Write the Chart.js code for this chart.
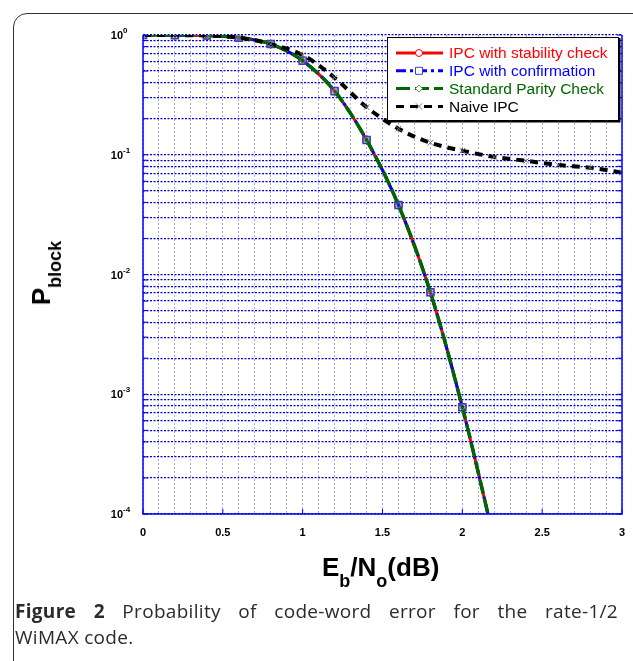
<!DOCTYPE html>
<html lang="en">
<head>
    <meta charset="UTF-8">
    <title>Probability of code-word error</title>
    <style>
        body {
            margin: 0;
            padding: 0;
            background: #fff;
            width: 633px;
            height: 661px;
            overflow: hidden;
            position: relative;
            font-family: Arial, "Liberation Sans", sans-serif;
        }
        #frame {
            position: absolute;
            left: 13px;
            top: 13px;
            width: 640px;
            height: 700px;
            border: 1.5px solid #333;
            border-radius: 14px;
        }
        #chart-container {
            position: absolute;
            left: 0;
            top: 0;
            width: 633px;
            height: 661px;
        }
        .axis-title {
            position: absolute;
            font-weight: bold;
            color: #000;
            white-space: nowrap;
        }
        #xTitle {
            left: 322px;
            top: 552px;
            font-size: 26px;
        }
        #xTitle sub, #yTitle sub {
            font-size: 18px;
            vertical-align: -11px;
        }
        #yTitle {
            left: 46px;
            top: 273px;
            font-size: 26px;
            transform: translate(-50%, -50%) rotate(-90deg);
        }
        #caption {
            position: absolute;
            left: 15px;
            top: 598px;
            width: 603px;
            font-family: "Open Sans", sans-serif;
            font-size: 19px;
            letter-spacing: 0.3px;
            line-height: 26px;
            color: #2b2b2b;
        }
        #caption .line1 {
            text-align: justify;
            text-align-last: justify;
            white-space: nowrap;
        }
    </style>
    <script src="https://cdn.jsdelivr.net/npm/chart.js"></script>
</head>
<body>

    <div id="frame"></div>
    <div id="chart-container">
        <canvas id="berChart" width="633" height="661"></canvas>
    </div>
    <div class="axis-title" id="xTitle">E<sub>b</sub>/N<sub>o</sub>(dB)</div>
    <div class="axis-title" id="yTitle">P<sub>block</sub></div>
    <div id="caption">
        <div class="line1"><b>Figure 2</b> Probability of code-word error for the rate-1/2</div>
        <div>WiMAX code.</div>
    </div>

    <script>
        // Eb/No in dB
        var ebno = [0, 0.2, 0.4, 0.6, 0.8, 1.0, 1.2, 1.4, 1.6, 1.8, 2.0, 2.2, 2.4, 2.6, 2.8, 3.0];

        // block error probability
        var ipcStability    = [1.0, 0.998, 0.99, 0.95, 0.84, 0.61, 0.34, 0.133, 0.038, 0.0071, 0.00078, 0.00006, null, null, null, null];
        var ipcConfirmation = [1.0, 0.998, 0.99, 0.95, 0.84, 0.61, 0.34, 0.133, 0.038, 0.0071, 0.00078, 0.00006, null, null, null, null];
        var standardParity  = [1.0, 0.998, 0.99, 0.95, 0.84, 0.61, 0.34, 0.133, 0.038, 0.0071, 0.00078, 0.00006, null, null, null, null];
        var naiveIpc        = [1.0, 0.998, 0.99, 0.95, 0.84, 0.68, 0.44, 0.25, 0.165, 0.126, 0.108, 0.096, 0.089, 0.082, 0.078, 0.071];

        var seriesLabels = ['IPC with stability check', 'IPC with confirmation', 'Standard Parity Check', 'Naive IPC'];

        // axis ticks
        var xTickLabels = [0, 0.5, 1, 1.5, 2, 2.5, 3];
        var xMinorStep = 0.1;
        var yExponents = [0, -1, -2, -3, -4];
        var yMultipliers = [1, 2, 3, 4, 5, 6, 7, 8, 9];

        function toPoints(ys) {
            var pts = [];
            for (var i = 0; i < ebno.length; i++) {
                if (ys[i] !== null) pts.push({ x: ebno[i], y: ys[i] });
            }
            return pts;
        }

        var xGrid = [];
        for (var k = 0; k <= 30; k++) xGrid.push(+(k * xMinorStep).toFixed(1));
        var yGrid = [];
        yExponents.forEach(function (e) {
            yMultipliers.forEach(function (m) {
                var v = m * Math.pow(10, e);
                if (v <= 1 && v >= 1e-4) yGrid.push(v);
            });
        });

        // legend + tick labels + axes box, drawn on top
        var decorPlugin = {
            id: 'decor',
            afterDraw: function (chart) {
                var ctx = chart.ctx;
                var area = chart.chartArea;
                var xs = chart.scales.x, ys = chart.scales.y;
                ctx.save();

                // axes box
                ctx.strokeStyle = '#0000ff';
                ctx.lineWidth = 1.5;
                ctx.beginPath();
                ctx.moveTo(area.left, area.top);
                ctx.lineTo(area.left, area.bottom);
                ctx.lineTo(area.right, area.bottom);
                ctx.lineTo(area.right, area.top);
                ctx.stroke();

                // inner tick marks
                ctx.lineWidth = 1;
                yGrid.forEach(function (v) {
                    var py = ys.getPixelForValue(v);
                    ctx.beginPath();
                    ctx.moveTo(area.left, py); ctx.lineTo(area.left + 5, py);
                    ctx.moveTo(area.right, py); ctx.lineTo(area.right - 5, py);
                    ctx.stroke();
                });
                xTickLabels.forEach(function (v) {
                    var px = xs.getPixelForValue(v);
                    ctx.beginPath();
                    ctx.moveTo(px, area.bottom); ctx.lineTo(px, area.bottom - 5);
                    ctx.stroke();
                });

                // x tick labels
                ctx.fillStyle = '#000';
                ctx.font = 'bold 11px Arial, "Liberation Sans", sans-serif';
                ctx.textAlign = 'center';
                ctx.textBaseline = 'middle';
                xTickLabels.forEach(function (v) {
                    ctx.fillText(String(v), xs.getPixelForValue(v), area.bottom + 19);
                });

                // y tick labels 10^n
                yExponents.forEach(function (e) {
                    var py = ys.getPixelForValue(Math.pow(10, e));
                    ctx.font = 'bold 11px Arial, "Liberation Sans", sans-serif';
                    ctx.textAlign = 'right';
                    ctx.textBaseline = 'middle';
                    ctx.fillText('10', area.left - 20, py + 1);
                    ctx.font = 'bold 8px Arial, "Liberation Sans", sans-serif';
                    ctx.textAlign = 'left';
                    ctx.fillText(String(e), area.left - 20, py - 4);
                });

                // legend box
                var bx = 387, by = 37, bw = 231, bh = 83;
                ctx.fillStyle = '#fff';
                ctx.fillRect(bx, by, bw, bh);
                ctx.strokeStyle = '#000';
                ctx.lineWidth = 1;
                ctx.strokeRect(bx + 0.5, by + 0.5, bw, bh);
                ctx.lineWidth = 2;
                ctx.beginPath();
                ctx.moveTo(bx + 1, by + bh + 1.5);
                ctx.lineTo(bx + bw + 1.5, by + bh + 1.5);
                ctx.lineTo(bx + bw + 1.5, by + 1);
                ctx.stroke();

                ctx.font = '15.5px Arial, "Liberation Sans", sans-serif';
                ctx.textBaseline = 'middle';
                chart.data.datasets.forEach(function (ds, i) {
                    var ly = by + 16 + i * 17.8;
                    ctx.strokeStyle = ds.borderColor;
                    ctx.lineWidth = 3;
                    ctx.setLineDash(ds.borderDash || []);
                    ctx.beginPath();
                    ctx.moveTo(bx + 9, ly);
                    ctx.lineTo(bx + 56, ly);
                    ctx.stroke();
                    ctx.setLineDash([]);
                    // marker
                    ctx.lineWidth = 1;
                    ctx.strokeStyle = ds.pointBorderColor;
                    ctx.fillStyle = '#fff';
                    var mx = bx + 32;
                    ctx.beginPath();
                    if (ds.pointStyle === 'circle') {
                        ctx.arc(mx, ly, 3.5, 0, Math.PI * 2);
                        ctx.fill(); ctx.stroke();
                    } else if (ds.pointStyle === 'rect') {
                        ctx.rect(mx - 3.5, ly - 3.5, 7, 7);
                        ctx.fill(); ctx.stroke();
                    } else if (ds.pointStyle === 'rectRot') {
                        ctx.moveTo(mx, ly - 3.5); ctx.lineTo(mx + 3.5, ly);
                        ctx.lineTo(mx, ly + 3.5); ctx.lineTo(mx - 3.5, ly);
                        ctx.closePath();
                        ctx.fill(); ctx.stroke();
                    } else {
                        ctx.moveTo(mx - 3, ly - 3); ctx.lineTo(mx + 3, ly + 3);
                        ctx.moveTo(mx + 3, ly - 3); ctx.lineTo(mx - 3, ly + 3);
                        ctx.stroke();
                    }
                    ctx.fillStyle = ds.borderColor;
                    ctx.textAlign = 'left';
                    ctx.fillText(ds.label, bx + 62, ly + 1);
                });
                ctx.restore();
            }
        };

        var ctx = document.getElementById('berChart').getContext('2d');
        var berChart = new Chart(ctx, {
            type: 'line',
            data: {
                datasets: [
                    {
                        label: seriesLabels[0],
                        data: toPoints(ipcStability),
                        borderColor: '#ff0000',
                        borderWidth: 3,
                        pointStyle: 'circle',
                        pointRadius: 4,
                        pointBorderColor: '#ff0000',
                        pointBackgroundColor: 'rgba(0,0,0,0)',
                        pointBorderWidth: 1,
                        cubicInterpolationMode: 'monotone',
                        order: 3
                    },
                    {
                        label: seriesLabels[1],
                        data: toPoints(ipcConfirmation),
                        borderColor: '#0000ff',
                        borderWidth: 3,
                        borderDash: [10, 4, 3, 4],
                        pointStyle: 'rect',
                        pointRadius: 5,
                        pointBorderColor: '#3b3bd6',
                        pointBackgroundColor: 'rgba(120,90,200,0.25)',
                        pointBorderWidth: 1.5,
                        cubicInterpolationMode: 'monotone',
                        order: 2
                    },
                    {
                        label: seriesLabels[2],
                        data: toPoints(standardParity),
                        borderColor: '#006600',
                        borderWidth: 3.5,
                        borderDash: [14, 5],
                        pointStyle: 'rectRot',
                        pointRadius: 3,
                        pointBorderColor: '#5a8f5a',
                        pointBackgroundColor: 'rgba(0,0,0,0)',
                        pointBorderWidth: 1,
                        cubicInterpolationMode: 'monotone',
                        order: 1
                    },
                    {
                        label: seriesLabels[3],
                        data: toPoints(naiveIpc),
                        borderColor: '#000000',
                        borderWidth: 4,
                        borderDash: [8, 6],
                        pointStyle: 'crossRot',
                        pointRadius: 4,
                        pointBorderColor: '#777777',
                        pointBorderWidth: 1,
                        cubicInterpolationMode: 'monotone',
                        order: 0
                    }
                ]
            },
            options: {
                responsive: false,
                animation: false,
                layout: {
                    padding: { left: 143, top: 35, right: 11, bottom: 147 }
                },
                plugins: {
                    legend: { display: false },
                    tooltip: { enabled: false }
                },
                scales: {
                    x: {
                        type: 'linear',
                        min: 0,
                        max: 3,
                        afterBuildTicks: function (scale) {
                            scale.ticks = xGrid.map(function (v) { return { value: v }; });
                        },
                        ticks: { display: false },
                        grid: { color: '#a8a8ff', lineWidth: 1, drawTicks: false },
                        border: { display: false, dash: [2, 2] }
                    },
                    y: {
                        type: 'logarithmic',
                        min: 1e-4,
                        max: 1,
                        afterBuildTicks: function (scale) {
                            scale.ticks = yGrid.map(function (v) { return { value: v }; });
                        },
                        ticks: { display: false },
                        grid: { color: '#0000cc', lineWidth: 1.2, drawTicks: false },
                        border: { display: false, dash: [2, 1.5] }
                    }
                }
            },
            plugins: [decorPlugin]
        });
    </script>

</body>
</html>
